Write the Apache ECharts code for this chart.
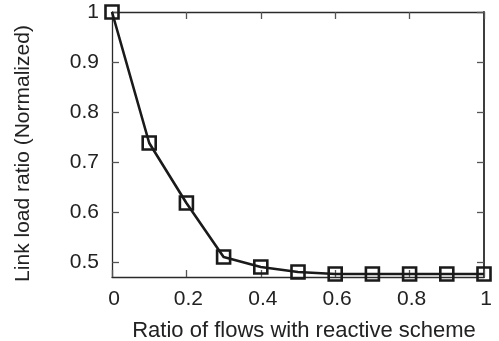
<!DOCTYPE html>
<html><head><meta charset="utf-8">
<script src="https://cdn.jsdelivr.net/npm/echarts@6/dist/echarts.min.js"></script>
<style>html,body{margin:0;padding:0;background:#fff}#c{width:499px;height:341px}</style>
</head><body><div id="c"></div>
<script>
var xValues = [0, 0.1, 0.2, 0.3, 0.4, 0.5, 0.6, 0.7, 0.8, 0.9, 1];
var linkLoad = [1, 0.738, 0.618, 0.51, 0.49, 0.48, 0.476, 0.476, 0.476, 0.476, 0.476];
var xTicks = [0, 0.2, 0.4, 0.6, 0.8, 1];
var yTicks = [0.5, 0.6, 0.7, 0.8, 0.9, 1];
var xTitle = 'Ratio of flows with reactive scheme';
var yTitle = 'Link load ratio (Normalized)';

var font = 'Liberation Sans, Arial, sans-serif';
var txt = '#222';
var fs = 21;
var chart = echarts.init(document.getElementById('c'));
function lab(v){ return String(v); }
function aLine(w){ return {show:true, onZero:false, lineStyle:{color:'#2a2a2a', width:w||1.3}}; }
function tk(vals){
  var t = {show:true, inside:true, length:7, lineStyle:{color:'#555', width:1.3}};
  if (vals) t.customValues = vals;
  return t;
}
chart.setOption({
  animation:false,
  grid:{left:112, right:15, top:12, bottom:64, show:false, containLabel:false, outerBoundsMode:'none'},
  xAxis:[{
    type:'value', min:0, max:1, interval:0.2, position:'bottom',
    name:xTitle, nameLocation:'middle', nameGap:43,
    nameTextStyle:{fontFamily:font, fontSize:22, color:txt, padding:[0,0,0,12]},
    axisLine:aLine(), axisTick:tk(xTicks), splitLine:{show:false},
    axisLabel:{fontFamily:font, fontSize:fs, color:txt, margin:12, padding:[0,0,0,4], customValues:xTicks, formatter:lab}
  },{
    type:'value', min:0, max:1, interval:0.2, position:'top',
    axisLine:aLine(), axisTick:tk(xTicks), splitLine:{show:false}, axisLabel:{show:false}
  }],
  yAxis:[{
    type:'value', min:0.47, max:1, position:'left',
    name:yTitle, nameLocation:'middle', nameGap:78, nameRotate:90,
    nameTextStyle:{fontFamily:font, fontSize:fs, color:txt, padding:[0,18,0,0]},
    axisLine:aLine(), axisTick:tk(yTicks), splitLine:{show:false},
    axisLabel:{fontFamily:font, fontSize:fs, color:txt, margin:13, customValues:yTicks, formatter:lab}
  },{
    type:'value', min:0.47, max:1, position:'right',
    axisLine:aLine(1.8), splitLine:{show:false}, axisLabel:{show:false},
    axisTick:tk(yTicks)
  }],
  series:[{
    type:'line', xAxisIndex:0, yAxisIndex:0,
    data: xValues.map(function(x,i){return [x, linkLoad[i]];}),
    lineStyle:{color:'#1a1a1a', width:2.6},
    symbol:'rect', symbolSize:13,
    itemStyle:{color:'rgba(0,0,0,0)', borderColor:'#1a1a1a', borderWidth:2.6},
    z:5
  }]
});
</script></body></html>
